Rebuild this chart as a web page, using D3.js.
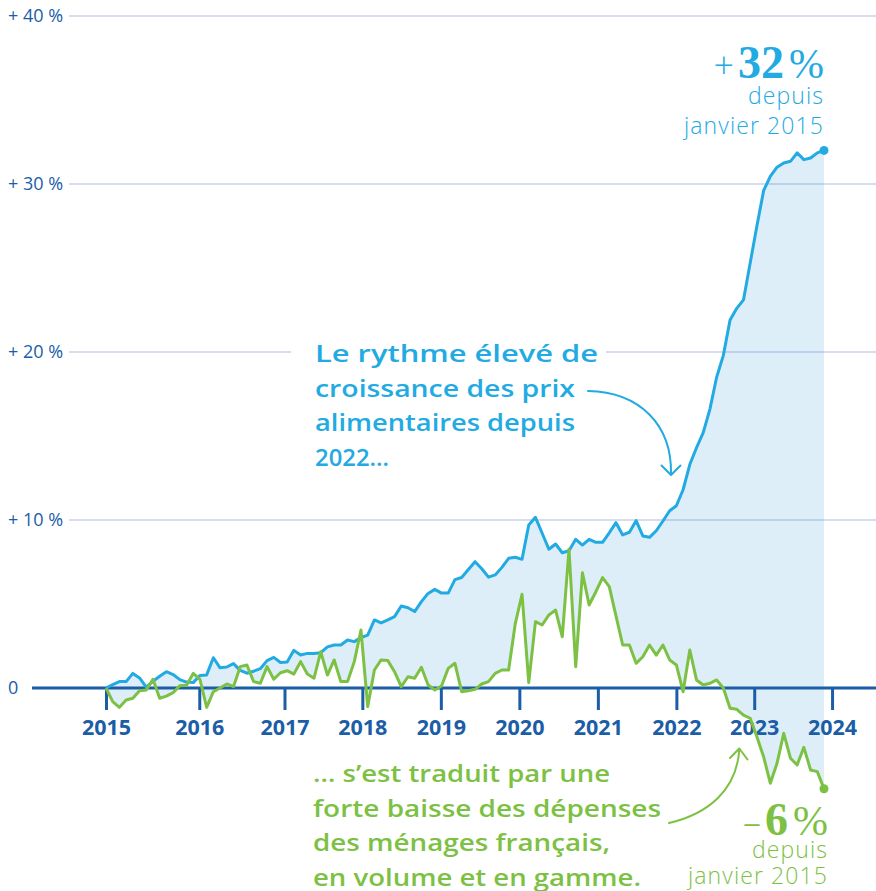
<!DOCTYPE html>
<html><head><meta charset="utf-8">
<script src="https://cdn.jsdelivr.net/npm/d3@7"></script>
<style>
html,body{margin:0;padding:0;background:#fff;}
svg{display:block;}
</style></head><body>
<svg id="chart" width="876" height="891"></svg>
<script>
// Monthly series, % change since January 2015 (Jan 2015 – Dec 2023)
const foodPrices = [
  0, 0.2, 0.38, 0.38, 0.87, 0.6, 0.05, 0.4, 0.7, 0.97, 0.8, 0.5,
  0.35, 0.32, 0.75, 0.78, 1.8, 1.2, 1.25, 1.45, 1.05, 0.88, 1.0, 1.15,
  1.63, 1.82, 1.52, 1.55, 2.24, 1.96, 2.06, 2.06, 2.1, 2.45, 2.56, 2.56,
  2.86, 2.76, 3.0, 3.15, 4.05, 3.87, 4.05, 4.25, 4.88, 4.78, 4.55, 5.14,
  5.63, 5.87, 5.65, 5.65, 6.45, 6.58, 7.05, 7.52, 7.1, 6.6, 6.73, 7.18,
  7.72, 7.78, 7.66, 9.7, 10.16, 9.21, 8.26, 8.57, 8.05, 8.17, 8.85, 8.51,
  8.85, 8.67, 8.67, 9.24, 9.84, 9.11, 9.27, 9.96, 9.05, 8.97, 9.36, 9.94,
  10.55, 10.85, 11.8, 13.3, 14.3, 15.2, 16.6, 18.5, 19.8, 21.9, 22.6, 23.1,
  25.3, 27.5, 29.6, 30.45, 31.0, 31.25, 31.35, 31.85, 31.45, 31.55, 31.85, 32
];
const foodSpending = [
  0, -0.81, -1.15, -0.71, -0.61, -0.16, -0.12, 0.52, -0.61, -0.48, -0.28, 0.14,
  0.16, 0.87, 0.52, -1.15, -0.22, 0, 0.24, 0.08, 1.27, 1.37, 0.38, 0.28,
  1.27, 0.52, 0.91, 1.03, 0.83, 1.57, 0.83, 0.58, 2.16, 0.77, 1.67, 0.38,
  0.38, 1.57, 3.45, -1.11, 1.07, 1.67, 1.63, 0.97, 0.08, 0.67, 0.58, 1.23,
  0.18, -0.12, 0.12, 1.17, 1.47, -0.22, -0.16, -0.08, 0.24, 0.38, 0.87, 1.07,
  1.07, 3.85, 5.58, 0.32, 3.95, 3.75, 4.35, 4.64, 3.05, 8.26, 1.27, 6.86,
  4.94, 5.73, 6.57, 6.03, 4.29, 2.56, 2.56, 1.47, 1.86, 2.56, 1.96, 2.56,
  1.67, 1.37, -0.22, 2.26, 0.48, 0.18, 0.28, 0.48, 0, -1.21, -1.27, -1.61,
  -1.8, -2.9, -4.09, -5.67, -4.48, -2.7, -4.18, -4.58, -3.53, -4.88, -4.98, -6
];
// Year labels and the month offset (from Jan 2015) at which each is marked
const yearLabels = ["2015","2016","2017","2018","2019","2020","2021","2022","2023","2024"];
const yearMarks  = [0, 13.9, 26.6, 38.2, 49.9, 61.6, 73.3, 85.0, 96.6, 108.2];
const yTicks = [0, 10, 20, 30, 40];

const priceNote = ["Le rythme élevé de", "croissance des prix", "alimentaires depuis", "2022…"];
const spendNote = ["… s’est traduit par une", "forte baisse des dépenses", "des ménages français,", "en volume et en gamme."];

const BLUE = "#22aae2", GREEN = "#7cc143", NAVY = "#1b5da6", GRID = "#d7dcee";
const SANS = "'Open Sans', 'Noto Sans', sans-serif";
const SERIF = "'Liberation Serif', 'DejaVu Serif', serif";

const svg = d3.select("#chart");
const W = 876;

const x = d3.scaleLinear().domain([0, foodPrices.length - 1]).range([106, 824]);
const y = d3.scaleLinear().domain([0, 40]).range([688, 16]);

// y labels + gridlines
const yl = svg.append("g");
yTicks.forEach(v => {
  const t = yl.append("text")
    .attr("x", 8).attr("y", y(v)).attr("dy", "0.36em")
    .attr("font-family", SANS).attr("font-size", 18).attr("fill", NAVY)
    .text(v === 0 ? "0" : "+ " + v + " %");
  if (v > 0) {
    const bb = t.node().getBBox();
    svg.insert("line", "g")
      .attr("x1", bb.x + bb.width + 6).attr("x2", W)
      .attr("y1", y(v)).attr("y2", y(v))
      .attr("stroke", GRID).attr("stroke-width", 2);
  }
});

// white block behind the price note (interrupts the gridline)
svg.append("rect").attr("x", 291).attr("y", 335).attr("width", 315).attr("height", 140).attr("fill", "#fff");

// band between the two series
const band = d3.area()
  .x((d, i) => x(i))
  .y0((d, i) => y(foodSpending[i]))
  .y1(d => y(d));
svg.append("path").datum(foodPrices).attr("d", band)
  .attr("fill", "rgb(30,140,215)").attr("fill-opacity", 0.15);

// zero axis and year ticks
svg.append("line").attr("x1", 32).attr("x2", W).attr("y1", y(0)).attr("y2", y(0))
  .attr("stroke", NAVY).attr("stroke-width", 3);
const xa = svg.append("g").attr("transform", `translate(0,${y(0)})`)
  .call(d3.axisBottom(x).tickValues(yearMarks).tickSize(22).tickFormat((d, i) => yearLabels[i]));
xa.select(".domain").remove();
xa.selectAll(".tick line").attr("stroke", NAVY).attr("stroke-width", 3);
xa.selectAll(".tick text").attr("fill", NAVY).attr("font-family", SANS)
  .attr("font-weight", 700).attr("font-size", 21.5).attr("y", 47).attr("dy", 0);

// series lines
const line = d3.line().x((d, i) => x(i)).y(d => y(d));
svg.append("path").datum(foodPrices).attr("d", line).attr("fill", "none")
  .attr("stroke", BLUE).attr("stroke-width", 3).attr("stroke-linejoin", "round");
svg.append("path").datum(foodSpending).attr("d", line).attr("fill", "none")
  .attr("stroke", GREEN).attr("stroke-width", 3).attr("stroke-linejoin", "round");
const last = foodPrices.length - 1;
svg.append("circle").attr("cx", x(last)).attr("cy", y(foodPrices[last])).attr("r", 4.5).attr("fill", BLUE);
svg.append("circle").attr("cx", x(last)).attr("cy", y(foodSpending[last])).attr("r", 4.5).attr("fill", GREEN);

// end-value callouts
function callout(xr, yBase, sign, value, color, offs) {
  const t = svg.append("text").attr("x", xr).attr("y", yBase).attr("text-anchor", "end").attr("fill", color);
  t.append("tspan").attr("font-family", SANS).attr("font-weight", 300).attr("font-size", 36).text(sign);
  t.append("tspan").attr("font-family", SERIF).attr("font-weight", 700).attr("font-size", 46).attr("dx", 4).text(Math.abs(Math.round(value)));
  t.append("tspan").attr("font-family", SERIF).attr("font-weight", 400).attr("font-size", 42).attr("dx", 5).text("%");
  ["depuis", "janvier 2015"].forEach((s, k) => {
    svg.append("text").attr("x", xr).attr("y", yBase + offs[k]).attr("text-anchor", "end")
      .attr("fill", color).attr("font-family", SANS).attr("font-weight", 300)
      .attr("font-size", 23).attr("letter-spacing", 1.1).text(s);
  });
}
callout(824, 78, "+", foodPrices[last], BLUE, [26, 56]);
callout(828, 835, "–", foodSpending[last], GREEN, [23, 49]);

// notes (set in a wide semibold face)
function note(lines, widths, x0, yBase, color) {
  lines.forEach((s, k) => {
    svg.append("text").attr("x", x0).attr("y", yBase + k * 34.5)
      .attr("fill", color).attr("font-family", SANS).attr("font-weight", 600)
      .attr("font-size", 23.5)
      .attr("textLength", widths[k]).attr("lengthAdjust", "spacingAndGlyphs")
      .text(s);
  });
}
note(priceNote, [283, 260, 260, 74], 315, 362, BLUE);
note(spendNote, [297, 348, 297, 328], 313, 782, GREEN);

// arrows
const arrow = (d, head, color) => {
  svg.append("path").attr("d", d).attr("fill", "none").attr("stroke", color).attr("stroke-width", 2).attr("stroke-linecap", "round");
  svg.append("path").attr("d", head).attr("fill", "none").attr("stroke", color).attr("stroke-width", 2).attr("stroke-linecap", "round").attr("stroke-linejoin", "round");
};
arrow("M588,391 C640,392 672,425 671,474", "M661.5,465.5 L671,475 L680.5,465.5", BLUE);
arrow("M669,823 C708,814 737,790 739.3,749", "M730,758 L739.3,748.5 L747.5,759.5", GREEN);
</script>
</body></html>
